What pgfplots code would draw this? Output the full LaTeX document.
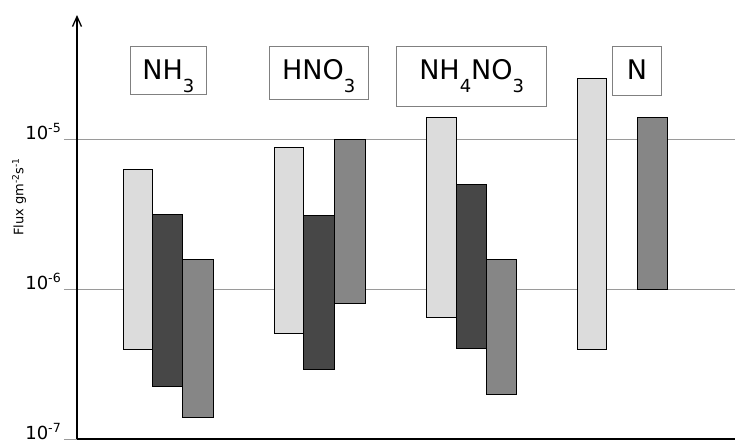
\documentclass[border=0pt]{standalone}
\usepackage{pgfplots}
\pgfplotsset{compat=1.18}
\usetikzlibrary{arrows.meta}
\usepackage{fontspec}
\setmainfont{DejaVu Sans}
\definecolor{lightbar}{HTML}{DCDCDC}
\definecolor{darkbar}{HTML}{474747}
\definecolor{midbar}{HTML}{868686}
\definecolor{gridgray}{HTML}{9A9A9A}
\definecolor{boxgray}{HTML}{808080}
\newcommand{\sub}[1]{\raisebox{-13bp}{\fontsize{18bp}{18bp}\selectfont #1}}
\begin{document}
\begin{tikzpicture}
\begin{axis}[
  at={(77bp,3bp)}, anchor=south west,
  scale only axis, width=658bp, height=424bp,
  xmin=77, xmax=735,
  ymode=log, ymin=1e-7, ymax=6.72e-5,
  axis x line=bottom, axis y line=left,
  x axis line style={-, line width=1.3bp},
  y axis line style={-{Straight Barb[length=10bp,width=9bp]}, line width=1.3bp},
  xtick=\empty,
  ytick={1e-7,1e-6,1e-5},
  yticklabels={10\textsuperscript{-7},10\textsuperscript{-6},10\textsuperscript{-5}},
  yminorticks=false,
  ymajorgrids, grid style={gridgray, line width=0.9bp},
  tick align=outside, major tick length=13bp,
  ytick style={gridgray, line width=0.9bp},
  yticklabel style={font=\fontsize{18bp}{18bp}\selectfont, anchor=base east, inner sep=2.5bp},
]
% NH3
\addplot[fill=lightbar, draw=black, line width=0.8bp] coordinates {(123,3.98e-7) (152,3.98e-7) (152,6.31e-6) (123,6.31e-6)} -- cycle;
\addplot[fill=darkbar, draw=black, line width=0.8bp] coordinates {(152,2.23e-7) (182,2.23e-7) (182,3.13e-6) (152,3.13e-6)} -- cycle;
\addplot[fill=midbar, draw=black, line width=0.8bp] coordinates {(182,1.40e-7) (213.5,1.40e-7) (213.5,1.58e-6) (182,1.58e-6)} -- cycle;
% HNO3
\addplot[fill=lightbar, draw=black, line width=0.8bp] coordinates {(274.5,5.07e-7) (303.5,5.07e-7) (303.5,8.85e-6) (274.5,8.85e-6)} -- cycle;
\addplot[fill=darkbar, draw=black, line width=0.8bp] coordinates {(303.5,2.93e-7) (334,2.93e-7) (334,3.08e-6) (303.5,3.08e-6)} -- cycle;
\addplot[fill=midbar, draw=black, line width=0.8bp] coordinates {(334,7.98e-7) (365,7.98e-7) (365,9.95e-6) (334,9.95e-6)} -- cycle;
% NH4NO3
\addplot[fill=lightbar, draw=black, line width=0.8bp] coordinates {(426.5,6.44e-7) (456,6.44e-7) (456,1.40e-5) (426.5,1.40e-5)} -- cycle;
\addplot[fill=darkbar, draw=black, line width=0.8bp] coordinates {(456,4.02e-7) (486,4.02e-7) (486,5.01e-6) (456,5.01e-6)} -- cycle;
\addplot[fill=midbar, draw=black, line width=0.8bp] coordinates {(486,1.99e-7) (516.5,1.99e-7) (516.5,1.57e-6) (486,1.57e-6)} -- cycle;
% N
\addplot[fill=lightbar, draw=black, line width=0.8bp] coordinates {(577,3.98e-7) (606,3.98e-7) (606,2.55e-5) (577,2.55e-5)} -- cycle;
\addplot[fill=midbar, draw=black, line width=0.8bp] coordinates {(637.5,1.0e-6) (667,1.0e-6) (667,1.40e-5) (637.5,1.40e-5)} -- cycle;
\end{axis}
% y label
\node[rotate=90, anchor=base, inner sep=0pt, font=\fontsize{13bp}{13bp}\selectfont] at (23.3bp,245bp) {Flux gm\textsuperscript{-2}s\textsuperscript{-1}};
% species boxes
\begin{scope}[every node/.style={anchor=base, inner sep=0pt, font=\fontsize{27bp}{27bp}\selectfont}]
\draw[boxgray, fill=white, line width=0.8bp] (130.7bp,347.7bp) rectangle (206bp,395.3bp);
\node at (168.3bp,362bp) {NH\sub{3}};
\draw[boxgray, fill=white, line width=0.8bp] (269.3bp,342.7bp) rectangle (368bp,396bp);
\node at (318.7bp,362bp) {HNO\sub{3}};
\draw[boxgray, fill=white, line width=0.8bp] (396.7bp,335.3bp) rectangle (546.7bp,396bp);
\node at (471.7bp,362bp) {NH\sub{4}NO\sub{3}};
\draw[boxgray, fill=white, line width=0.8bp] (612.3bp,347bp) rectangle (661.7bp,396bp);
\node at (637bp,362bp) {N};
\end{scope}
\pgfresetboundingbox
\path (0,0) rectangle (735bp,442bp);
\end{tikzpicture}
\end{document}
